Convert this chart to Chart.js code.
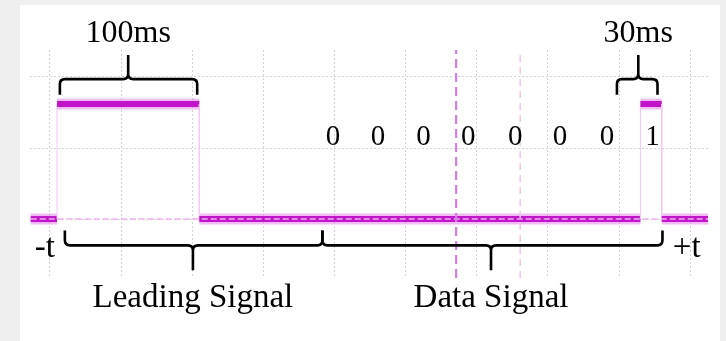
<!DOCTYPE html>
<html>
<head>
<meta charset="utf-8">
<script src="https://cdn.jsdelivr.net/npm/chart.js@4"></script>
<style>
  html, body { margin: 0; padding: 0; background: #efefef; }
  #panel { position: absolute; left: 20px; top: 5px; width: 700px; height: 336px; background: #fff; }
</style>
</head>
<body>
<div id="panel"><canvas id="chart" width="700" height="336"></canvas></div>
<script>
// x in scope divisions (1 div = 50 ms), y in divisions above the idle level
const gridX = [0, 1, 2, 3, 4, 5, 6, 7, 8, 9];
const gridY = [0, 1, 2];

// trace corners (leading pulse, then the "1" bit)
const signalX = [-0.27, 0.1, 0.1, 2.1, 2.1, 8.3, 8.3, 8.6, 8.6, 9.25];
const signalY = [0, 0, 1.62, 1.62, 0, 0, 1.62, 1.62, 0, 0];

// idle reference line
const refX = [-0.27, 9.25];
const refY = [0, 0];

// cursor markers
const cursorX = [5.71, 6.61];

// decoded bits
const bitLabels = ['0', '0', '0', '0', '0', '0', '0', '1'];
const bitX = [3.98, 4.61, 5.25, 5.88, 6.54, 7.17, 7.83, 8.47];

// pulse width braces
const pulseLabels = ['100ms', '30ms'];
const pulseFrom = [0.14, 7.97];
const pulseTo = [2.07, 8.54];
const pulseMid = [1.1, 8.27];

// section braces
const sectionLabels = ['Leading Signal', 'Data Signal'];
const sectionFrom = [0.21, 3.83];
const sectionTo = [3.83, 8.61];
const sectionMid = [2.01, 6.2];

const endLabels = ['-t', '+t'];
const endX = [-0.07, 8.95];

const yMin = -0.83, yMax = 2.38, xMin = -0.28, xMax = 9.25;

const toPoints = (xs, ys) => xs.map((v, i) => ({ x: v, y: ys[i] }));
const isVertical = c => c.p0.parsed.x === c.p1.parsed.x;

function brace(ctx, x1, x2, xm, yLine, yEnd, yTip) {
    const r = 5;
    const d = Math.sign(yEnd - yLine);
    ctx.beginPath();
    ctx.moveTo(x1, yEnd);
    ctx.lineTo(x1, yLine + d * r);
    ctx.quadraticCurveTo(x1, yLine, x1 + r, yLine);
    ctx.lineTo(xm - r, yLine);
    ctx.quadraticCurveTo(xm, yLine, xm, yLine - d * r);
    ctx.lineTo(xm, yTip);
    ctx.moveTo(xm, yLine - d * r);
    ctx.quadraticCurveTo(xm, yLine, xm + r, yLine);
    ctx.lineTo(x2 - r, yLine);
    ctx.quadraticCurveTo(x2, yLine, x2, yLine + d * r);
    ctx.lineTo(x2, yEnd);
    ctx.stroke();
}

// braces and text
const annotate = {
    id: 'annotate',
    afterDatasetsDraw(chart) {
        const { ctx, scales: { x, y } } = chart;
        ctx.save();
        ctx.strokeStyle = '#000';
        ctx.lineWidth = 2.6;
        ctx.lineJoin = 'round';
        ctx.fillStyle = '#000';
        ctx.textAlign = 'center';
        ctx.textBaseline = 'alphabetic';

        pulseLabels.forEach((lbl, i) => {
            brace(ctx, x.getPixelForValue(pulseFrom[i]), x.getPixelForValue(pulseTo[i]),
                x.getPixelForValue(pulseMid[i]), y.getPixelForValue(1.97),
                y.getPixelForValue(1.75), y.getPixelForValue(2.31));
            ctx.font = '32px "Liberation Serif", "Times New Roman", serif';
            ctx.fillText(lbl, x.getPixelForValue(pulseMid[i]), y.getPixelForValue(2.49));
        });

        sectionLabels.forEach((lbl, i) => {
            brace(ctx, x.getPixelForValue(sectionFrom[i]), x.getPixelForValue(sectionTo[i]),
                x.getPixelForValue(sectionMid[i]), y.getPixelForValue(-0.37),
                y.getPixelForValue(-0.16), y.getPixelForValue(-0.72));
            ctx.font = '33px "Liberation Serif", "Times New Roman", serif';
            ctx.fillText(lbl, x.getPixelForValue(sectionMid[i]), y.getPixelForValue(-1.24));
        });

        ctx.font = '33px "Liberation Serif", "Times New Roman", serif';
        endLabels.forEach((lbl, i) => {
            ctx.fillText(lbl, x.getPixelForValue(endX[i]), y.getPixelForValue(-0.535));
        });

        ctx.font = '29px "Liberation Serif", "Times New Roman", serif';
        bitLabels.forEach((lbl, i) => {
            ctx.fillText(lbl, x.getPixelForValue(bitX[i]), y.getPixelForValue(1.04));
        });
        ctx.restore();
    }
};

const signal = toPoints(signalX, signalY);

new Chart(document.getElementById('chart'), {
    type: 'line',
    data: {
        datasets: [
            {
                data: toPoints([cursorX[0], cursorX[0]], [yMin, yMax]),
                borderColor: '#d27ee0', borderWidth: 2.2, borderDash: [9, 5], order: 1
            },
            {
                data: toPoints([cursorX[1], cursorX[1]], [yMin, yMax]),
                borderColor: '#f2c6ec', borderWidth: 1.5, borderDash: [7, 5], order: 1
            },
            {
                data: toPoints(refX, refY),
                borderColor: '#eeb0f0', borderWidth: 1.5, borderDash: [6, 3], order: 2
            },
            {
                data: signal,
                borderColor: '#c016c8', borderWidth: 6, order: 3,
                segment: {
                    borderColor: c => isVertical(c) ? '#f2c8f2' : undefined,
                    borderWidth: c => isVertical(c) ? 1 : undefined
                }
            },
            {
                data: signal,
                borderColor: 'rgba(228,120,234,0.5)', borderWidth: 11, order: 4,
                segment: {
                    borderColor: c => isVertical(c) ? 'rgba(0,0,0,0)' : undefined
                }
            }
        ]
    },
    options: {
        responsive: false,
        animation: false,
        events: [],
        layout: { padding: { left: 10, right: 12, top: 45, bottom: 63 } },
        elements: {
            point: { radius: 0 },
            line: { borderCapStyle: 'butt', tension: 0, fill: false }
        },
        datasets: { line: { clip: false } },
        plugins: { legend: { display: false }, tooltip: { enabled: false } },
        scales: {
            x: {
                type: 'linear', min: xMin, max: xMax,
                afterBuildTicks: s => { s.ticks = gridX.map(v => ({ value: v })); },
                ticks: { display: false },
                grid: { color: '#d4d4d4', lineWidth: 1, drawTicks: false },
                border: { display: false, dash: [2, 2] }
            },
            y: {
                type: 'linear', min: yMin, max: yMax,
                afterBuildTicks: s => { s.ticks = gridY.map(v => ({ value: v })); },
                ticks: { display: false },
                grid: { color: '#d4d4d4', lineWidth: 1, drawTicks: false },
                border: { display: false, dash: [2, 2] }
            }
        }
    },
    plugins: [annotate]
});
</script>
</body>
</html>
